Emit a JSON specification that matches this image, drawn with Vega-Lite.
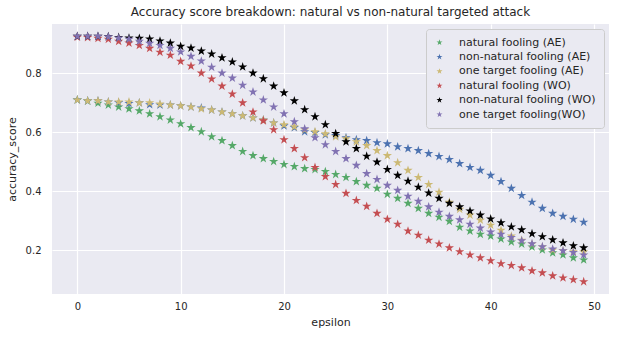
{
  "$schema": "https://vega.github.io/schema/vega-lite/v6.json",
  "width": 557,
  "height": 270,
  "autosize": {"type": "none"},
  "padding": {"left": 52, "top": 24, "right": 13, "bottom": 44},
  "title": {"text": "Accuracy score breakdown: natural vs non-natural targeted attack", "fontSize": 12, "font": "DejaVu Sans", "fontWeight": "normal", "color": "#262626", "offset": 5},
  "data": {"values": [
    {"epsilon":0,"series":"natural fooling (AE)","accuracy":0.710},
    {"epsilon":1,"series":"natural fooling (AE)","accuracy":0.706},
    {"epsilon":2,"series":"natural fooling (AE)","accuracy":0.699},
    {"epsilon":3,"series":"natural fooling (AE)","accuracy":0.693},
    {"epsilon":4,"series":"natural fooling (AE)","accuracy":0.686},
    {"epsilon":5,"series":"natural fooling (AE)","accuracy":0.680},
    {"epsilon":6,"series":"natural fooling (AE)","accuracy":0.673},
    {"epsilon":7,"series":"natural fooling (AE)","accuracy":0.663},
    {"epsilon":8,"series":"natural fooling (AE)","accuracy":0.653},
    {"epsilon":9,"series":"natural fooling (AE)","accuracy":0.642},
    {"epsilon":10,"series":"natural fooling (AE)","accuracy":0.629},
    {"epsilon":11,"series":"natural fooling (AE)","accuracy":0.616},
    {"epsilon":12,"series":"natural fooling (AE)","accuracy":0.602},
    {"epsilon":13,"series":"natural fooling (AE)","accuracy":0.585},
    {"epsilon":14,"series":"natural fooling (AE)","accuracy":0.572},
    {"epsilon":15,"series":"natural fooling (AE)","accuracy":0.555},
    {"epsilon":16,"series":"natural fooling (AE)","accuracy":0.535},
    {"epsilon":17,"series":"natural fooling (AE)","accuracy":0.521},
    {"epsilon":18,"series":"natural fooling (AE)","accuracy":0.511},
    {"epsilon":19,"series":"natural fooling (AE)","accuracy":0.501},
    {"epsilon":20,"series":"natural fooling (AE)","accuracy":0.491},
    {"epsilon":21,"series":"natural fooling (AE)","accuracy":0.484},
    {"epsilon":22,"series":"natural fooling (AE)","accuracy":0.477},
    {"epsilon":23,"series":"natural fooling (AE)","accuracy":0.474},
    {"epsilon":24,"series":"natural fooling (AE)","accuracy":0.467},
    {"epsilon":25,"series":"natural fooling (AE)","accuracy":0.457},
    {"epsilon":26,"series":"natural fooling (AE)","accuracy":0.447},
    {"epsilon":27,"series":"natural fooling (AE)","accuracy":0.433},
    {"epsilon":28,"series":"natural fooling (AE)","accuracy":0.420},
    {"epsilon":29,"series":"natural fooling (AE)","accuracy":0.410},
    {"epsilon":30,"series":"natural fooling (AE)","accuracy":0.390},
    {"epsilon":31,"series":"natural fooling (AE)","accuracy":0.376},
    {"epsilon":32,"series":"natural fooling (AE)","accuracy":0.359},
    {"epsilon":33,"series":"natural fooling (AE)","accuracy":0.342},
    {"epsilon":34,"series":"natural fooling (AE)","accuracy":0.325},
    {"epsilon":35,"series":"natural fooling (AE)","accuracy":0.312},
    {"epsilon":36,"series":"natural fooling (AE)","accuracy":0.298},
    {"epsilon":37,"series":"natural fooling (AE)","accuracy":0.278},
    {"epsilon":38,"series":"natural fooling (AE)","accuracy":0.265},
    {"epsilon":39,"series":"natural fooling (AE)","accuracy":0.254},
    {"epsilon":40,"series":"natural fooling (AE)","accuracy":0.248},
    {"epsilon":41,"series":"natural fooling (AE)","accuracy":0.238},
    {"epsilon":42,"series":"natural fooling (AE)","accuracy":0.228},
    {"epsilon":43,"series":"natural fooling (AE)","accuracy":0.221},
    {"epsilon":44,"series":"natural fooling (AE)","accuracy":0.211},
    {"epsilon":45,"series":"natural fooling (AE)","accuracy":0.201},
    {"epsilon":46,"series":"natural fooling (AE)","accuracy":0.191},
    {"epsilon":47,"series":"natural fooling (AE)","accuracy":0.184},
    {"epsilon":48,"series":"natural fooling (AE)","accuracy":0.174},
    {"epsilon":49,"series":"natural fooling (AE)","accuracy":0.167},
    {"epsilon":0,"series":"non-natural fooling (AE)","accuracy":0.710},
    {"epsilon":1,"series":"non-natural fooling (AE)","accuracy":0.707},
    {"epsilon":2,"series":"non-natural fooling (AE)","accuracy":0.707},
    {"epsilon":3,"series":"non-natural fooling (AE)","accuracy":0.703},
    {"epsilon":4,"series":"non-natural fooling (AE)","accuracy":0.701},
    {"epsilon":5,"series":"non-natural fooling (AE)","accuracy":0.698},
    {"epsilon":6,"series":"non-natural fooling (AE)","accuracy":0.700},
    {"epsilon":7,"series":"non-natural fooling (AE)","accuracy":0.694},
    {"epsilon":8,"series":"non-natural fooling (AE)","accuracy":0.693},
    {"epsilon":9,"series":"non-natural fooling (AE)","accuracy":0.693},
    {"epsilon":10,"series":"non-natural fooling (AE)","accuracy":0.690},
    {"epsilon":11,"series":"non-natural fooling (AE)","accuracy":0.686},
    {"epsilon":12,"series":"non-natural fooling (AE)","accuracy":0.683},
    {"epsilon":13,"series":"non-natural fooling (AE)","accuracy":0.676},
    {"epsilon":14,"series":"non-natural fooling (AE)","accuracy":0.669},
    {"epsilon":15,"series":"non-natural fooling (AE)","accuracy":0.663},
    {"epsilon":16,"series":"non-natural fooling (AE)","accuracy":0.656},
    {"epsilon":17,"series":"non-natural fooling (AE)","accuracy":0.649},
    {"epsilon":18,"series":"non-natural fooling (AE)","accuracy":0.642},
    {"epsilon":19,"series":"non-natural fooling (AE)","accuracy":0.632},
    {"epsilon":20,"series":"non-natural fooling (AE)","accuracy":0.622},
    {"epsilon":21,"series":"non-natural fooling (AE)","accuracy":0.616},
    {"epsilon":22,"series":"non-natural fooling (AE)","accuracy":0.602},
    {"epsilon":23,"series":"non-natural fooling (AE)","accuracy":0.599},
    {"epsilon":24,"series":"non-natural fooling (AE)","accuracy":0.592},
    {"epsilon":25,"series":"non-natural fooling (AE)","accuracy":0.589},
    {"epsilon":26,"series":"non-natural fooling (AE)","accuracy":0.582},
    {"epsilon":27,"series":"non-natural fooling (AE)","accuracy":0.575},
    {"epsilon":28,"series":"non-natural fooling (AE)","accuracy":0.572},
    {"epsilon":29,"series":"non-natural fooling (AE)","accuracy":0.565},
    {"epsilon":30,"series":"non-natural fooling (AE)","accuracy":0.561},
    {"epsilon":31,"series":"non-natural fooling (AE)","accuracy":0.551},
    {"epsilon":32,"series":"non-natural fooling (AE)","accuracy":0.545},
    {"epsilon":33,"series":"non-natural fooling (AE)","accuracy":0.538},
    {"epsilon":34,"series":"non-natural fooling (AE)","accuracy":0.528},
    {"epsilon":35,"series":"non-natural fooling (AE)","accuracy":0.518},
    {"epsilon":36,"series":"non-natural fooling (AE)","accuracy":0.508},
    {"epsilon":37,"series":"non-natural fooling (AE)","accuracy":0.494},
    {"epsilon":38,"series":"non-natural fooling (AE)","accuracy":0.481},
    {"epsilon":39,"series":"non-natural fooling (AE)","accuracy":0.471},
    {"epsilon":40,"series":"non-natural fooling (AE)","accuracy":0.454},
    {"epsilon":41,"series":"non-natural fooling (AE)","accuracy":0.433},
    {"epsilon":42,"series":"non-natural fooling (AE)","accuracy":0.410},
    {"epsilon":43,"series":"non-natural fooling (AE)","accuracy":0.386},
    {"epsilon":44,"series":"non-natural fooling (AE)","accuracy":0.363},
    {"epsilon":45,"series":"non-natural fooling (AE)","accuracy":0.342},
    {"epsilon":46,"series":"non-natural fooling (AE)","accuracy":0.325},
    {"epsilon":47,"series":"non-natural fooling (AE)","accuracy":0.315},
    {"epsilon":48,"series":"non-natural fooling (AE)","accuracy":0.305},
    {"epsilon":49,"series":"non-natural fooling (AE)","accuracy":0.295},
    {"epsilon":0,"series":"one target fooling (AE)","accuracy":0.710},
    {"epsilon":1,"series":"one target fooling (AE)","accuracy":0.707},
    {"epsilon":2,"series":"one target fooling (AE)","accuracy":0.707},
    {"epsilon":3,"series":"one target fooling (AE)","accuracy":0.703},
    {"epsilon":4,"series":"one target fooling (AE)","accuracy":0.703},
    {"epsilon":5,"series":"one target fooling (AE)","accuracy":0.703},
    {"epsilon":6,"series":"one target fooling (AE)","accuracy":0.700},
    {"epsilon":7,"series":"one target fooling (AE)","accuracy":0.700},
    {"epsilon":8,"series":"one target fooling (AE)","accuracy":0.696},
    {"epsilon":9,"series":"one target fooling (AE)","accuracy":0.693},
    {"epsilon":10,"series":"one target fooling (AE)","accuracy":0.690},
    {"epsilon":11,"series":"one target fooling (AE)","accuracy":0.686},
    {"epsilon":12,"series":"one target fooling (AE)","accuracy":0.680},
    {"epsilon":13,"series":"one target fooling (AE)","accuracy":0.676},
    {"epsilon":14,"series":"one target fooling (AE)","accuracy":0.669},
    {"epsilon":15,"series":"one target fooling (AE)","accuracy":0.663},
    {"epsilon":16,"series":"one target fooling (AE)","accuracy":0.656},
    {"epsilon":17,"series":"one target fooling (AE)","accuracy":0.649},
    {"epsilon":18,"series":"one target fooling (AE)","accuracy":0.642},
    {"epsilon":19,"series":"one target fooling (AE)","accuracy":0.632},
    {"epsilon":20,"series":"one target fooling (AE)","accuracy":0.626},
    {"epsilon":21,"series":"one target fooling (AE)","accuracy":0.619},
    {"epsilon":22,"series":"one target fooling (AE)","accuracy":0.609},
    {"epsilon":23,"series":"one target fooling (AE)","accuracy":0.602},
    {"epsilon":24,"series":"one target fooling (AE)","accuracy":0.595},
    {"epsilon":25,"series":"one target fooling (AE)","accuracy":0.585},
    {"epsilon":26,"series":"one target fooling (AE)","accuracy":0.578},
    {"epsilon":27,"series":"one target fooling (AE)","accuracy":0.568},
    {"epsilon":28,"series":"one target fooling (AE)","accuracy":0.555},
    {"epsilon":29,"series":"one target fooling (AE)","accuracy":0.538},
    {"epsilon":30,"series":"one target fooling (AE)","accuracy":0.521},
    {"epsilon":31,"series":"one target fooling (AE)","accuracy":0.497},
    {"epsilon":32,"series":"one target fooling (AE)","accuracy":0.471},
    {"epsilon":33,"series":"one target fooling (AE)","accuracy":0.447},
    {"epsilon":34,"series":"one target fooling (AE)","accuracy":0.423},
    {"epsilon":35,"series":"one target fooling (AE)","accuracy":0.397},
    {"epsilon":36,"series":"one target fooling (AE)","accuracy":0.363},
    {"epsilon":37,"series":"one target fooling (AE)","accuracy":0.339},
    {"epsilon":38,"series":"one target fooling (AE)","accuracy":0.319},
    {"epsilon":39,"series":"one target fooling (AE)","accuracy":0.302},
    {"epsilon":40,"series":"one target fooling (AE)","accuracy":0.285},
    {"epsilon":41,"series":"one target fooling (AE)","accuracy":0.268},
    {"epsilon":42,"series":"one target fooling (AE)","accuracy":0.248},
    {"epsilon":43,"series":"one target fooling (AE)","accuracy":0.234},
    {"epsilon":44,"series":"one target fooling (AE)","accuracy":0.221},
    {"epsilon":45,"series":"one target fooling (AE)","accuracy":0.211},
    {"epsilon":46,"series":"one target fooling (AE)","accuracy":0.201},
    {"epsilon":47,"series":"one target fooling (AE)","accuracy":0.198},
    {"epsilon":48,"series":"one target fooling (AE)","accuracy":0.195},
    {"epsilon":49,"series":"one target fooling (AE)","accuracy":0.195},
    {"epsilon":0,"series":"natural fooling (WO)","accuracy":0.923},
    {"epsilon":1,"series":"natural fooling (WO)","accuracy":0.922},
    {"epsilon":2,"series":"natural fooling (WO)","accuracy":0.919},
    {"epsilon":3,"series":"natural fooling (WO)","accuracy":0.916},
    {"epsilon":4,"series":"natural fooling (WO)","accuracy":0.909},
    {"epsilon":5,"series":"natural fooling (WO)","accuracy":0.903},
    {"epsilon":6,"series":"natural fooling (WO)","accuracy":0.895},
    {"epsilon":7,"series":"natural fooling (WO)","accuracy":0.885},
    {"epsilon":8,"series":"natural fooling (WO)","accuracy":0.872},
    {"epsilon":9,"series":"natural fooling (WO)","accuracy":0.862},
    {"epsilon":10,"series":"natural fooling (WO)","accuracy":0.841},
    {"epsilon":11,"series":"natural fooling (WO)","accuracy":0.825},
    {"epsilon":12,"series":"natural fooling (WO)","accuracy":0.801},
    {"epsilon":13,"series":"natural fooling (WO)","accuracy":0.781},
    {"epsilon":14,"series":"natural fooling (WO)","accuracy":0.757},
    {"epsilon":15,"series":"natural fooling (WO)","accuracy":0.730},
    {"epsilon":16,"series":"natural fooling (WO)","accuracy":0.700},
    {"epsilon":17,"series":"natural fooling (WO)","accuracy":0.669},
    {"epsilon":18,"series":"natural fooling (WO)","accuracy":0.639},
    {"epsilon":19,"series":"natural fooling (WO)","accuracy":0.609},
    {"epsilon":20,"series":"natural fooling (WO)","accuracy":0.575},
    {"epsilon":21,"series":"natural fooling (WO)","accuracy":0.545},
    {"epsilon":22,"series":"natural fooling (WO)","accuracy":0.514},
    {"epsilon":23,"series":"natural fooling (WO)","accuracy":0.481},
    {"epsilon":24,"series":"natural fooling (WO)","accuracy":0.450},
    {"epsilon":25,"series":"natural fooling (WO)","accuracy":0.423},
    {"epsilon":26,"series":"natural fooling (WO)","accuracy":0.393},
    {"epsilon":27,"series":"natural fooling (WO)","accuracy":0.369},
    {"epsilon":28,"series":"natural fooling (WO)","accuracy":0.349},
    {"epsilon":29,"series":"natural fooling (WO)","accuracy":0.325},
    {"epsilon":30,"series":"natural fooling (WO)","accuracy":0.305},
    {"epsilon":31,"series":"natural fooling (WO)","accuracy":0.288},
    {"epsilon":32,"series":"natural fooling (WO)","accuracy":0.265},
    {"epsilon":33,"series":"natural fooling (WO)","accuracy":0.251},
    {"epsilon":34,"series":"natural fooling (WO)","accuracy":0.234},
    {"epsilon":35,"series":"natural fooling (WO)","accuracy":0.221},
    {"epsilon":36,"series":"natural fooling (WO)","accuracy":0.208},
    {"epsilon":37,"series":"natural fooling (WO)","accuracy":0.195},
    {"epsilon":38,"series":"natural fooling (WO)","accuracy":0.184},
    {"epsilon":39,"series":"natural fooling (WO)","accuracy":0.174},
    {"epsilon":40,"series":"natural fooling (WO)","accuracy":0.164},
    {"epsilon":41,"series":"natural fooling (WO)","accuracy":0.154},
    {"epsilon":42,"series":"natural fooling (WO)","accuracy":0.148},
    {"epsilon":43,"series":"natural fooling (WO)","accuracy":0.140},
    {"epsilon":44,"series":"natural fooling (WO)","accuracy":0.130},
    {"epsilon":45,"series":"natural fooling (WO)","accuracy":0.123},
    {"epsilon":46,"series":"natural fooling (WO)","accuracy":0.113},
    {"epsilon":47,"series":"natural fooling (WO)","accuracy":0.106},
    {"epsilon":48,"series":"natural fooling (WO)","accuracy":0.100},
    {"epsilon":49,"series":"natural fooling (WO)","accuracy":0.093},
    {"epsilon":0,"series":"non-natural fooling (WO)","accuracy":0.926},
    {"epsilon":1,"series":"non-natural fooling (WO)","accuracy":0.926},
    {"epsilon":2,"series":"non-natural fooling (WO)","accuracy":0.926},
    {"epsilon":3,"series":"non-natural fooling (WO)","accuracy":0.925},
    {"epsilon":4,"series":"non-natural fooling (WO)","accuracy":0.922},
    {"epsilon":5,"series":"non-natural fooling (WO)","accuracy":0.920},
    {"epsilon":6,"series":"non-natural fooling (WO)","accuracy":0.919},
    {"epsilon":7,"series":"non-natural fooling (WO)","accuracy":0.917},
    {"epsilon":8,"series":"non-natural fooling (WO)","accuracy":0.910},
    {"epsilon":9,"series":"non-natural fooling (WO)","accuracy":0.903},
    {"epsilon":10,"series":"non-natural fooling (WO)","accuracy":0.892},
    {"epsilon":11,"series":"non-natural fooling (WO)","accuracy":0.886},
    {"epsilon":12,"series":"non-natural fooling (WO)","accuracy":0.876},
    {"epsilon":13,"series":"non-natural fooling (WO)","accuracy":0.866},
    {"epsilon":14,"series":"non-natural fooling (WO)","accuracy":0.853},
    {"epsilon":15,"series":"non-natural fooling (WO)","accuracy":0.839},
    {"epsilon":16,"series":"non-natural fooling (WO)","accuracy":0.822},
    {"epsilon":17,"series":"non-natural fooling (WO)","accuracy":0.801},
    {"epsilon":18,"series":"non-natural fooling (WO)","accuracy":0.782},
    {"epsilon":19,"series":"non-natural fooling (WO)","accuracy":0.757},
    {"epsilon":20,"series":"non-natural fooling (WO)","accuracy":0.734},
    {"epsilon":21,"series":"non-natural fooling (WO)","accuracy":0.707},
    {"epsilon":22,"series":"non-natural fooling (WO)","accuracy":0.677},
    {"epsilon":23,"series":"non-natural fooling (WO)","accuracy":0.653},
    {"epsilon":24,"series":"non-natural fooling (WO)","accuracy":0.626},
    {"epsilon":25,"series":"non-natural fooling (WO)","accuracy":0.596},
    {"epsilon":26,"series":"non-natural fooling (WO)","accuracy":0.568},
    {"epsilon":27,"series":"non-natural fooling (WO)","accuracy":0.545},
    {"epsilon":28,"series":"non-natural fooling (WO)","accuracy":0.519},
    {"epsilon":29,"series":"non-natural fooling (WO)","accuracy":0.499},
    {"epsilon":30,"series":"non-natural fooling (WO)","accuracy":0.474},
    {"epsilon":31,"series":"non-natural fooling (WO)","accuracy":0.454},
    {"epsilon":32,"series":"non-natural fooling (WO)","accuracy":0.434},
    {"epsilon":33,"series":"non-natural fooling (WO)","accuracy":0.414},
    {"epsilon":34,"series":"non-natural fooling (WO)","accuracy":0.394},
    {"epsilon":35,"series":"non-natural fooling (WO)","accuracy":0.376},
    {"epsilon":36,"series":"non-natural fooling (WO)","accuracy":0.359},
    {"epsilon":37,"series":"non-natural fooling (WO)","accuracy":0.347},
    {"epsilon":38,"series":"non-natural fooling (WO)","accuracy":0.333},
    {"epsilon":39,"series":"non-natural fooling (WO)","accuracy":0.319},
    {"epsilon":40,"series":"non-natural fooling (WO)","accuracy":0.306},
    {"epsilon":41,"series":"non-natural fooling (WO)","accuracy":0.293},
    {"epsilon":42,"series":"non-natural fooling (WO)","accuracy":0.279},
    {"epsilon":43,"series":"non-natural fooling (WO)","accuracy":0.269},
    {"epsilon":44,"series":"non-natural fooling (WO)","accuracy":0.256},
    {"epsilon":45,"series":"non-natural fooling (WO)","accuracy":0.246},
    {"epsilon":46,"series":"non-natural fooling (WO)","accuracy":0.235},
    {"epsilon":47,"series":"non-natural fooling (WO)","accuracy":0.225},
    {"epsilon":48,"series":"non-natural fooling (WO)","accuracy":0.215},
    {"epsilon":49,"series":"non-natural fooling (WO)","accuracy":0.208},
    {"epsilon":0,"series":"one target fooling(WO)","accuracy":0.926},
    {"epsilon":1,"series":"one target fooling(WO)","accuracy":0.926},
    {"epsilon":2,"series":"one target fooling(WO)","accuracy":0.926},
    {"epsilon":3,"series":"one target fooling(WO)","accuracy":0.924},
    {"epsilon":4,"series":"one target fooling(WO)","accuracy":0.920},
    {"epsilon":5,"series":"one target fooling(WO)","accuracy":0.916},
    {"epsilon":6,"series":"one target fooling(WO)","accuracy":0.909},
    {"epsilon":7,"series":"one target fooling(WO)","accuracy":0.902},
    {"epsilon":8,"series":"one target fooling(WO)","accuracy":0.895},
    {"epsilon":9,"series":"one target fooling(WO)","accuracy":0.885},
    {"epsilon":10,"series":"one target fooling(WO)","accuracy":0.873},
    {"epsilon":11,"series":"one target fooling(WO)","accuracy":0.858},
    {"epsilon":12,"series":"one target fooling(WO)","accuracy":0.842},
    {"epsilon":13,"series":"one target fooling(WO)","accuracy":0.821},
    {"epsilon":14,"series":"one target fooling(WO)","accuracy":0.801},
    {"epsilon":15,"series":"one target fooling(WO)","accuracy":0.784},
    {"epsilon":16,"series":"one target fooling(WO)","accuracy":0.760},
    {"epsilon":17,"series":"one target fooling(WO)","accuracy":0.737},
    {"epsilon":18,"series":"one target fooling(WO)","accuracy":0.710},
    {"epsilon":19,"series":"one target fooling(WO)","accuracy":0.686},
    {"epsilon":20,"series":"one target fooling(WO)","accuracy":0.663},
    {"epsilon":21,"series":"one target fooling(WO)","accuracy":0.636},
    {"epsilon":22,"series":"one target fooling(WO)","accuracy":0.612},
    {"epsilon":23,"series":"one target fooling(WO)","accuracy":0.582},
    {"epsilon":24,"series":"one target fooling(WO)","accuracy":0.558},
    {"epsilon":25,"series":"one target fooling(WO)","accuracy":0.535},
    {"epsilon":26,"series":"one target fooling(WO)","accuracy":0.511},
    {"epsilon":27,"series":"one target fooling(WO)","accuracy":0.488},
    {"epsilon":28,"series":"one target fooling(WO)","accuracy":0.460},
    {"epsilon":29,"series":"one target fooling(WO)","accuracy":0.440},
    {"epsilon":30,"series":"one target fooling(WO)","accuracy":0.420},
    {"epsilon":31,"series":"one target fooling(WO)","accuracy":0.403},
    {"epsilon":32,"series":"one target fooling(WO)","accuracy":0.383},
    {"epsilon":33,"series":"one target fooling(WO)","accuracy":0.366},
    {"epsilon":34,"series":"one target fooling(WO)","accuracy":0.347},
    {"epsilon":35,"series":"one target fooling(WO)","accuracy":0.329},
    {"epsilon":36,"series":"one target fooling(WO)","accuracy":0.315},
    {"epsilon":37,"series":"one target fooling(WO)","accuracy":0.303},
    {"epsilon":38,"series":"one target fooling(WO)","accuracy":0.288},
    {"epsilon":39,"series":"one target fooling(WO)","accuracy":0.275},
    {"epsilon":40,"series":"one target fooling(WO)","accuracy":0.262},
    {"epsilon":41,"series":"one target fooling(WO)","accuracy":0.254},
    {"epsilon":42,"series":"one target fooling(WO)","accuracy":0.243},
    {"epsilon":43,"series":"one target fooling(WO)","accuracy":0.232},
    {"epsilon":44,"series":"one target fooling(WO)","accuracy":0.222},
    {"epsilon":45,"series":"one target fooling(WO)","accuracy":0.212},
    {"epsilon":46,"series":"one target fooling(WO)","accuracy":0.204},
    {"epsilon":47,"series":"one target fooling(WO)","accuracy":0.198},
    {"epsilon":48,"series":"one target fooling(WO)","accuracy":0.192},
    {"epsilon":49,"series":"one target fooling(WO)","accuracy":0.184}
  ]},
  "mark": {"type": "point", "shape": "M0,-1L0.2245,-0.309L0.951,-0.309L0.363,0.118L0.588,0.809L0,0.382L-0.588,0.809L-0.363,0.118L-0.951,-0.309L-0.2245,-0.309Z", "filled": true, "size": 95, "opacity": 1},
  "encoding": {
    "x": {"field": "epsilon", "type": "quantitative", "scale": {"domain": [-2.45, 51.45], "nice": false, "zero": false},
      "axis": {"values": [0, 10, 20, 30, 40, 50], "title": "epsilon", "labelPadding": 7, "titlePadding": 5}},
    "y": {"field": "accuracy", "type": "quantitative", "scale": {"domain": [0.0513, 0.9677], "nice": false, "zero": false},
      "axis": {"values": [0.2, 0.4, 0.6, 0.8], "format": ".1f", "title": "accuracy_score", "labelPadding": 11, "titlePadding": 8}},
    "color": {"field": "series", "type": "nominal",
      "scale": {"domain": ["natural fooling (AE)", "non-natural fooling (AE)", "one target fooling (AE)", "natural fooling (WO)", "non-natural fooling (WO)", "one target fooling(WO)"],
                "range": ["#55A868", "#4C72B0", "#CCB974", "#C44E52", "#000000", "#8172B2"]},
      "legend": {"title": null, "orient": "top-right", "offset": 5}}
  },
  "config": {
    "background": "white",
    "view": {"fill": "#EAEAF2", "stroke": null},
    "axis": {"domain": false, "ticks": false, "grid": true, "gridColor": "#FFFFFF", "gridWidth": 1.2, "gridOpacity": 1,
      "labelFont": "DejaVu Sans", "labelFontSize": 10, "labelColor": "#262626",
      "titleFont": "DejaVu Sans", "titleFontSize": 11, "titleFontWeight": "normal", "titleColor": "#262626"},
    "legend": {"labelFont": "DejaVu Sans", "labelFontSize": 11, "labelColor": "#262626",
      "symbolType": "M0,-1L0.2245,-0.309L0.951,-0.309L0.363,0.118L0.588,0.809L0,0.382L-0.588,0.809L-0.363,0.118L-0.951,-0.309L-0.2245,-0.309Z",
      "symbolSize": 40, "symbolStrokeWidth": 0,
      "fillColor": "#EAEAF2", "strokeColor": "#CCCCCC", "cornerRadius": 3, "padding": 8, "rowPadding": 2.4, "labelOffset": 14}
  }
}
